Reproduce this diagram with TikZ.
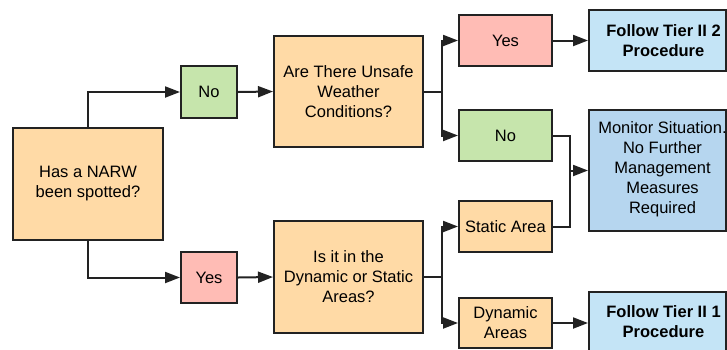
\documentclass[tikz,border=0pt]{standalone}
\usepackage{fontspec}
\setmainfont{Liberation Sans}
\usetikzlibrary{arrows.meta,calc}
\definecolor{orangef}{HTML}{FFDAA6}
\definecolor{greenf}{HTML}{C6E5AC}
\definecolor{redf}{HTML}{FFBCB5}
\definecolor{bluef}{HTML}{C4E4F6}
\definecolor{monf}{HTML}{B6D6EF}
\definecolor{edge}{HTML}{222222}
\begin{document}
\begin{tikzpicture}[x=1pt,y=-1pt,
  font=\fontsize{16.5}{20}\selectfont,
  box/.style={draw=edge,line width=2pt,inner sep=0pt,align=center,anchor=center},
  txt/.style={inner sep=0pt,align=center},
  arr/.style={draw=edge,line width=2pt,-{Triangle[length=15pt,width=11pt]}},
  ln/.style={draw=edge,line width=2pt}]
\useasboundingbox (0,0) rectangle (727,349);
\node[box,fill=orangef,minimum width=150pt,minimum height=112pt] (narw) at (88,184) {Has a NARW\\been spotted?};
\node[box,fill=greenf,minimum width=56pt,minimum height=52pt] (no1) at (209,92) {No};
\node[box,fill=orangef,minimum width=149pt,minimum height=111pt] (weather) at (348.5,91.5) {Are There Unsafe\\Weather\\Conditions?};
\node[box,fill=redf,minimum width=93pt,minimum height=51pt] (yes1) at (505.5,40.5) {Yes};
\node[box,fill=greenf,minimum width=93pt,minimum height=51pt] (no2) at (505.5,135.5) {No};
\node[box,fill=bluef,minimum width=137pt,minimum height=61pt] (t2) at (657.5,40.5) {};
\node[txt,font=\fontsize{16.5}{20}\selectfont\bfseries] (t2t) at ($(t2.center)+(6,0)$) {Follow Tier II 2\\Procedure};
\node[box,fill=monf,minimum width=137pt,minimum height=121pt] (mon) at (657.5,170.5) {};
\node[txt] (mont) at ($(mon.center)+(5,-1)$) {Monitor Situation.\\No Further\\Management\\Measures\\Required};
\node[box,fill=redf,minimum width=56pt,minimum height=51pt] (yes2) at (209,277.5) {Yes};
\node[box,fill=orangef,minimum width=149pt,minimum height=112pt] (dynq) at (348.5,277) {Is it in the\\Dynamic or Static\\Areas?};
\node[box,fill=orangef,minimum width=93pt,minimum height=51pt] (static) at (505.5,226.5) {Static Area};
\node[box,fill=orangef,minimum width=93pt,minimum height=50pt] (dynamic) at (505.5,323) {Dynamic\\Areas};
\node[box,fill=bluef,minimum width=137pt,minimum height=59pt] (t1) at (657.5,321.5) {};
\node[txt,font=\fontsize{16.5}{20}\selectfont\bfseries] (t1t) at ($(t1.center)+(6,0)$) {Follow Tier II 1\\Procedure};
% connectors
\draw[arr] (narw.north) |- (no1.west);
\draw[arr] (narw.south) |- (yes2.west);
\draw[arr] (no1.east) -- (weather.west);
\draw[arr] (yes2.east) -- (dynq.west);
\coordinate (b1) at ($(weather.east)+(18,0)$);
\draw[arr] (weather.east) -- (b1) |- (yes1.west);
\draw[arr] (b1) |- (no2.west);
\coordinate (b2) at ($(dynq.east)+(18,0)$);
\draw[arr] (dynq.east) -- (b2) |- (static.west);
\draw[arr] (b2) |- (dynamic.west);
\draw[arr] (yes1.east) -- (t2.west);
\coordinate (j) at ($(mon.west)+(-18,0)$);
\draw[ln] (no2.east) -| (j);
\draw[ln] (static.east) -| (j);
\draw[arr] (j) -- (mon.west);
\draw[arr] (dynamic.east) -- (dynamic.east -| t1.west);
\end{tikzpicture}
\end{document}
